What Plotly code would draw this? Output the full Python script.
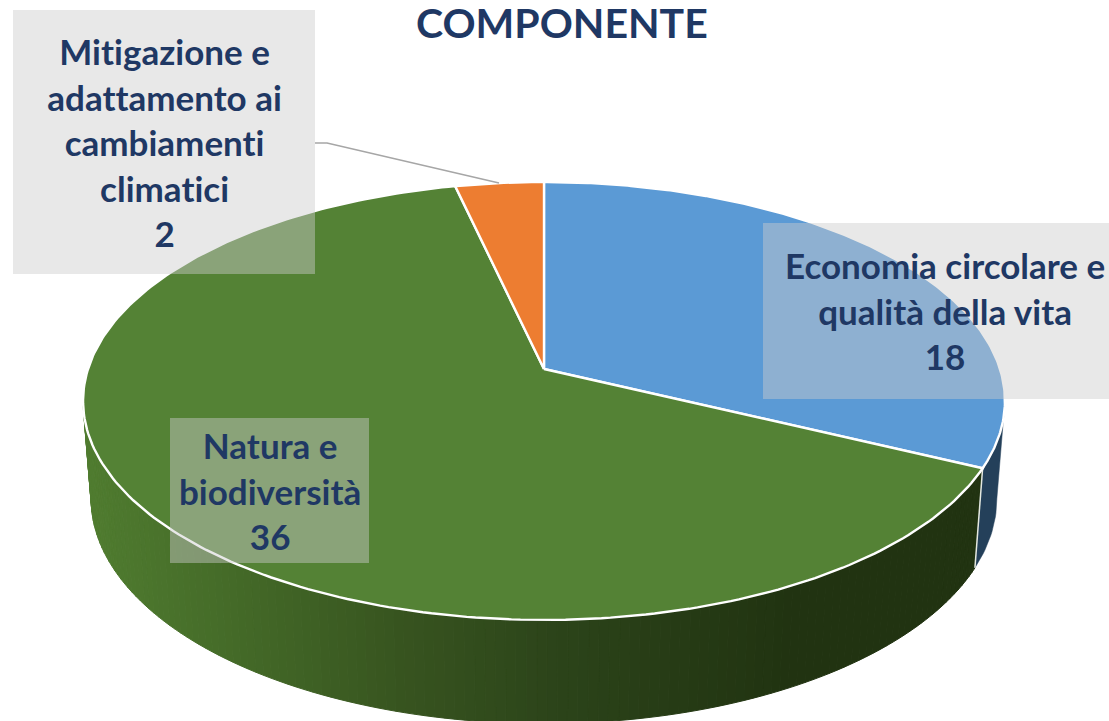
"""3D-look pie chart of projects per component."""

import numpy as np
import plotly.graph_objects as go

CATEGORIES = ["Economia circolare e<br>qualità della vita", "Natura e<br>biodiversità", "Mitigazione e<br>adattamento ai<br>cambiamenti<br>climatici"]
VALUES = [18, 36, 2]
TOP_COLORS = ["#5b9ad5", "#548235", "#ed7d31"]
TITLE = "COMPONENTE"

NAVY = "#1f3864"
FONT = "Lato"

PAGE_W, PAGE_H = 1109, 721

# perspective of the pie disc, in pixels of the 1109x721 page
CX, CY = 544, 369
RX, RY = 456, 214.3
TILT = 0.146
BOTTOM_Y, BOTTOM_RX, BOTTOM_RY = 466, 448, 220


def rim(theta, top=True):
    """Project clockwise-from-north angles (degrees) on the top or bottom rim."""
    t = np.radians(theta)
    u, v = np.sin(t), np.cos(t)
    d = 1 + TILT * v
    if top:
        return CX + RX * u / d, CY - RY * v / d
    return CX + BOTTOM_RX * u / d, BOTTOM_Y - BOTTOM_RY * v / d


def side_color(x):
    """Front wall shading, light on the left and dark on the right."""
    stops_x = [90, 240, 400, 560, 800, 1000]
    reds = [80, 68, 56, 44, 33, 33]
    greens = [124, 106, 85, 68, 51, 51]
    blues = [48, 40, 32, 26, 17, 17]
    return "rgb(%d,%d,%d)" % (np.interp(x, stops_x, reds), np.interp(x, stops_x, greens), np.interp(x, stops_x, blues))


def poly(xs, ys, color, line_color, width=1.0):
    return go.Scatter(x=xs, y=ys, mode="lines", fill="toself", fillcolor=color,
                      line=dict(color=line_color, width=width), hoverinfo="skip", showlegend=False)


edges = np.cumsum([0] + VALUES) / sum(VALUES) * 360
fig = go.Figure()

# walls first, then the top face over them
front_limit = np.degrees(np.arccos(-TILT))
strip_edges = np.linspace(edges[1], 360 - front_limit, 131)
for a, b in zip(strip_edges[:-1], strip_edges[1:]):
    pair = np.array([a, b])
    x_top, y_top = rim(pair)
    x_bot, y_bot = rim(pair, top=False)
    xs = list(x_top) + list(x_bot[::-1]) + [x_top[0]]
    ys = list(y_top) + list(y_bot[::-1]) + [y_top[0]]
    color = side_color(np.mean(xs))
    fig.add_trace(poly(xs, ys, color, color, 1))

blue_wall = np.linspace(front_limit, edges[1], 20)
x_top, y_top = rim(blue_wall)
x_bot, y_bot = rim(blue_wall, top=False)
fig.add_trace(poly(list(x_top) + list(x_bot[::-1]) + [x_top[0]], list(y_top) + list(y_bot[::-1]) + [y_top[0]], "#24405a", "#24405a", 0.5))

# seam between the blue and green walls
sx, sy = rim(np.array([edges[1]]))
bx, by = rim(np.array([edges[1]]), top=False)
fig.add_trace(go.Scatter(x=[sx[0], bx[0]], y=[sy[0], by[0]], mode="lines", line=dict(color="#e4e8e0", width=1.5),
                         hoverinfo="skip", showlegend=False))

for start, end, color in zip(edges[:-1], edges[1:], TOP_COLORS):
    theta = np.linspace(start, end, 240)
    x_edge, y_edge = rim(theta)
    fig.add_trace(poly([CX] + list(x_edge) + [CX], [CY] + list(y_edge) + [CY], color, "white", 2.4))

BOX_FILL = "rgba(204,204,204,0.45)"
boxes = [(763, 223, 1109, 399), (170, 418, 369, 563), (13, 10, 315, 274)]
label_pos = [(945, 310), (269.5, 490), (164, 142)]
for box in boxes:
    fig.add_shape(type="rect", x0=box[0], y0=box[1], x1=box[2], y1=box[3], fillcolor=BOX_FILL, line_width=0, layer="above")
fig.add_shape(type="path", path="M 315 143 L 327 143 L 499 183", line=dict(color="#a6a6a6", width=1.5), layer="above")

for name, value, pos in zip(CATEGORIES, VALUES, label_pos):
    fig.add_annotation(x=pos[0], y=pos[1], text=f"<b>{name}<br>{value}</b>", showarrow=False, align="center",
                       font=dict(family=FONT, size=35, color=NAVY))
fig.add_annotation(x=562, y=22, text=f"<b>{TITLE}</b>", showarrow=False, font=dict(family=FONT, size=41, color=NAVY))

fig.update_layout(
    width=PAGE_W, height=PAGE_H, margin=dict(l=0, r=0, t=0, b=0), autosize=False,
    paper_bgcolor="white", plot_bgcolor="white", showlegend=False,
    xaxis=dict(range=[0, PAGE_W], visible=False, fixedrange=True),
    yaxis=dict(range=[PAGE_H, 0], visible=False, fixedrange=True),
)

# no body margin, no ligatures, and a slightly heavier stroke on the bold labels
page_css = (
    "document.body.style.margin='0';"
    "document.head.insertAdjacentHTML('beforeend','<style>svg text{font-variant-ligatures:none;"
    "font-feature-settings:\"liga\" 0,\"clig\" 0,\"calt\" 0;-webkit-text-stroke:0.5px #1f3864}</style>');"
)
fig.write_html("out.html", post_script=page_css, config=dict(displayModeBar=False))
